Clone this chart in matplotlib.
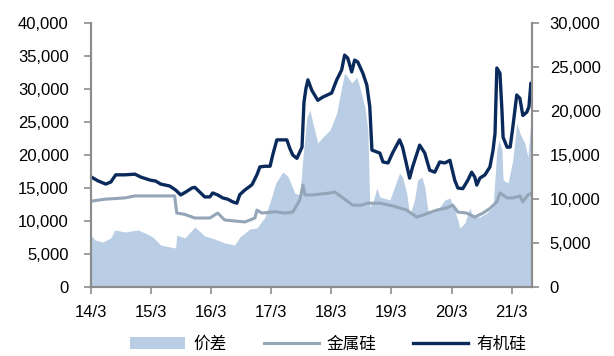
import matplotlib
matplotlib.use('Agg')
import matplotlib.pyplot as plt
from matplotlib.ticker import FuncFormatter, MultipleLocator
import pandas as pd

plt.rcParams['font.family'] = ['Liberation Sans', 'DejaVu Sans']
plt.rcParams['font.size'] = 12

# 有机硅 (DMC) price, left axis
dmc_dates = ['2014-03-01', '2014-04-12', '2014-05-30', '2014-06-30', '2014-07-30', '2014-09-24',
             '2014-11-24', '2014-12-30', '2015-02-24', '2015-03-30', '2015-04-29', '2015-06-23',
             '2015-07-29', '2015-08-29', '2015-09-29', '2015-11-05', '2015-11-23', '2015-12-22',
             '2016-01-22', '2016-02-22', '2016-03-10', '2016-04-10', '2016-05-10', '2016-06-10',
             '2016-07-10', '2016-08-04', '2016-08-22', '2016-09-22', '2016-11-04', '2016-12-04',
             '2016-12-22', '2017-01-22', '2017-02-22', '2017-03-10', '2017-04-04', '2017-06-04',
             '2017-06-22', '2017-07-10', '2017-08-04', '2017-09-04', '2017-09-16', '2017-09-28',
             '2017-10-10', '2017-11-03', '2017-12-09', '2018-01-09', '2018-03-03', '2018-04-03',
             '2018-05-03', '2018-05-21', '2018-06-09', '2018-07-03', '2018-07-21', '2018-08-09',
             '2018-09-09', '2018-10-03', '2018-10-21', '2018-11-03', '2018-12-21', '2019-01-09',
             '2019-02-09', '2019-03-08', '2019-04-20', '2019-05-08', '2019-06-02', '2019-06-20',
             '2019-07-08', '2019-08-20', '2019-09-20', '2019-10-20', '2019-11-20', '2019-12-20',
             '2020-01-20', '2020-02-20', '2020-03-20', '2020-04-08', '2020-05-08', '2020-06-08',
             '2020-07-01', '2020-07-20', '2020-08-01', '2020-08-20', '2020-09-20', '2020-10-20',
             '2020-11-08', '2020-11-20', '2020-12-01', '2020-12-20', '2021-01-01', '2021-01-08',
             '2021-02-01', '2021-02-20', '2021-03-08', '2021-04-01', '2021-04-20', '2021-05-08',
             '2021-06-01', '2021-06-14', '2021-06-26', '2021-07-01']
dmc_price = [16700, 16100, 15600, 15900, 17000, 17000,
             17100, 16650, 16200, 16050, 15600, 15300,
             14700, 13950, 14400, 15000, 15100, 14400,
             13650, 13650, 14250, 13950, 13500, 13300,
             12900, 12700, 14000, 14700, 15500, 17000,
             18200, 18300, 18300, 20000, 22300, 22300,
             21000, 20000, 19500, 21200, 28000, 30100,
             31400, 29800, 28300, 28800, 29400, 31400,
             32900, 35150, 34700, 32600, 34400, 34100,
             32400, 30600, 27300, 20750, 20300, 18950,
             18800, 20300, 22300, 21200, 18500, 16500,
             18200, 21500, 20300, 17700, 17400, 18950,
             18800, 19200, 16200, 15000, 14900, 16200,
             17400, 16650, 15450, 16500, 17000, 18200,
             20750, 23300, 33200, 32400, 26800, 22700,
             21200, 21200, 24200, 29100, 28600, 26000,
             26500, 27300, 30900, 30600]

# 金属硅 price, left axis
si_dates = ['2014-03-01', '2014-05-24', '2014-09-24', '2014-11-24', '2015-07-23', '2015-08-05',
            '2015-09-23', '2015-11-23', '2016-02-22', '2016-04-10', '2016-05-22', '2016-09-22',
            '2016-11-22', '2016-12-04', '2017-01-04', '2017-03-22', '2017-05-22', '2017-07-10',
            '2017-08-22', '2017-09-10', '2017-09-22', '2017-11-09', '2018-02-21', '2018-03-21',
            '2018-05-03', '2018-07-09', '2018-09-03', '2018-10-03', '2018-12-21', '2019-03-08',
            '2019-06-02', '2019-08-02', '2019-09-08', '2019-12-02', '2020-02-02', '2020-03-08',
            '2020-04-08', '2020-06-01', '2020-07-20', '2020-09-08', '2020-10-20', '2020-12-01',
            '2020-12-20', '2021-02-01', '2021-03-08', '2021-04-20', '2021-05-08', '2021-06-08',
            '2021-07-01']
si_price = [13000, 13300, 13500, 13800, 13800, 11200,
            11000, 10450, 10450, 11200, 10150, 9850,
            10450, 11650, 11200, 11400, 11200, 11350,
            13200, 15450, 13950, 13950, 14250, 14400,
            13650, 12400, 12400, 12700, 12700, 12300,
            11650, 10600, 10900, 11650, 12000, 12400,
            11350, 11200, 10600, 11200, 11900, 12900,
            14250, 13500, 13500, 13800, 12900, 13950,
            14250]

# 价差, right axis
spread_dates = ['2014-03-01', '2014-03-25', '2014-05-12', '2014-06-30', '2014-07-24', '2014-09-24',
                '2014-12-12', '2015-01-24', '2015-03-12', '2015-04-29', '2015-06-23', '2015-07-29',
                '2015-08-05', '2015-09-23', '2015-11-23', '2016-01-22', '2016-03-22', '2016-05-22',
                '2016-07-22', '2016-08-22', '2016-10-22', '2016-12-04', '2017-01-22', '2017-03-04',
                '2017-03-28', '2017-05-10', '2017-06-10', '2017-07-22', '2017-08-22', '2017-09-10',
                '2017-10-04', '2017-10-22', '2017-11-09', '2017-12-09', '2018-01-09', '2018-02-21',
                '2018-04-03', '2018-05-03', '2018-05-21', '2018-06-09', '2018-07-03', '2018-08-03',
                '2018-08-21', '2018-09-21', '2018-10-09', '2018-10-21', '2018-11-09', '2018-12-03',
                '2018-12-21', '2019-02-20', '2019-03-20', '2019-04-20', '2019-05-08', '2019-06-02',
                '2019-06-20', '2019-07-20', '2019-08-08', '2019-09-02', '2019-09-20', '2019-10-08',
                '2019-11-08', '2019-12-20', '2020-01-20', '2020-02-20', '2020-03-20', '2020-04-08',
                '2020-04-20', '2020-05-20', '2020-06-20', '2020-07-08', '2020-08-20', '2020-10-01',
                '2020-11-08', '2020-12-01', '2020-12-14', '2021-01-01', '2021-01-08', '2021-02-07',
                '2021-03-08', '2021-04-01', '2021-04-20', '2021-05-20', '2021-06-08', '2021-07-01']
spread_value = [5900, 5340, 5110, 5570, 6480, 6250,
                6480, 6140, 5680, 4770, 4550, 4430,
                5900, 5570, 6820, 5800, 5450, 5000,
                4770, 5680, 6590, 6700, 7950, 10230,
                11800, 13070, 12600, 10680, 10450, 14770,
                19320, 20110, 18640, 16360, 17050, 17840,
                19770, 22730, 24320, 23860, 23180, 23860,
                22730, 20450, 17840, 9090, 9660, 11250,
                10230, 9890, 11360, 12950, 12500, 10680,
                8180, 9890, 12160, 12500, 11360, 8750,
                8410, 9090, 9890, 10110, 8750, 7610,
                6700, 7270, 8980, 7950, 7950, 8410,
                9090, 15570, 16700, 15570, 12160, 11820,
                14430, 18640, 17500, 16360, 14770, 20110]

tick_dates = ['2014-03-01', '2015-03-01', '2016-03-01', '2017-03-01',
              '2018-03-01', '2019-03-01', '2020-03-01', '2021-03-01']
tick_labels = ['14/3', '15/3', '16/3', '17/3', '18/3', '19/3', '20/3', '21/3']

c_area = '#b9cde5'
c_si = '#95a5b8'
c_dmc = '#0a2a5c'
c_axis = '#8c8c8c'

fig = plt.figure(figsize=(6.14, 3.56), dpi=100)
ax = fig.add_axes([0.148, 0.194, 0.718, 0.741])
ax2 = ax.twinx()

ax2.fill_between(pd.to_datetime(spread_dates), spread_value, 0, color=c_area, lw=0, label='价差')
ax.plot(pd.to_datetime(si_dates), si_price, color=c_si, lw=2.2, label='金属硅')
ax.plot(pd.to_datetime(dmc_dates), dmc_price, color=c_dmc, lw=2.4, label='有机硅')

ax.set_zorder(ax2.get_zorder() + 1)
ax.patch.set_visible(False)

ax.set_xlim(pd.Timestamp('2014-03-01'), pd.Timestamp('2021-07-01'))
ax.set_ylim(0, 40000)
ax2.set_ylim(0, 30000)
ax.yaxis.set_major_locator(MultipleLocator(5000))
ax2.yaxis.set_major_locator(MultipleLocator(5000))
fmt = FuncFormatter(lambda v, p: f'{int(v):,}')
ax.yaxis.set_major_formatter(fmt)
ax2.yaxis.set_major_formatter(fmt)

ax.set_xticks(pd.to_datetime(tick_dates))
ax.set_xticklabels(tick_labels)

for a in (ax, ax2):
    a.spines['top'].set_visible(False)
    for s in ('left', 'right', 'bottom'):
        a.spines[s].set_color(c_axis)
        a.spines[s].set_linewidth(1.5)
    a.tick_params(direction='out', length=5, width=1.2, color=c_axis, labelsize=12)
ax.tick_params(axis='y', pad=11)
ax2.tick_params(axis='y', pad=8)
ax.tick_params(axis='x', pad=8)

handles = [ax2.collections[0], ax.lines[0], ax.lines[1]]
fig.legend(handles, [h.get_label() for h in handles], loc='center', ncol=3,
           bbox_to_anchor=(0.535, 0.032), frameon=False, handlelength=3.3,
           columnspacing=2.2, handletextpad=0.5,
           prop={'family': ['Noto Sans CJK SC', 'DejaVu Sans'], 'size': 12})

fig.savefig('out.png', dpi=100)
